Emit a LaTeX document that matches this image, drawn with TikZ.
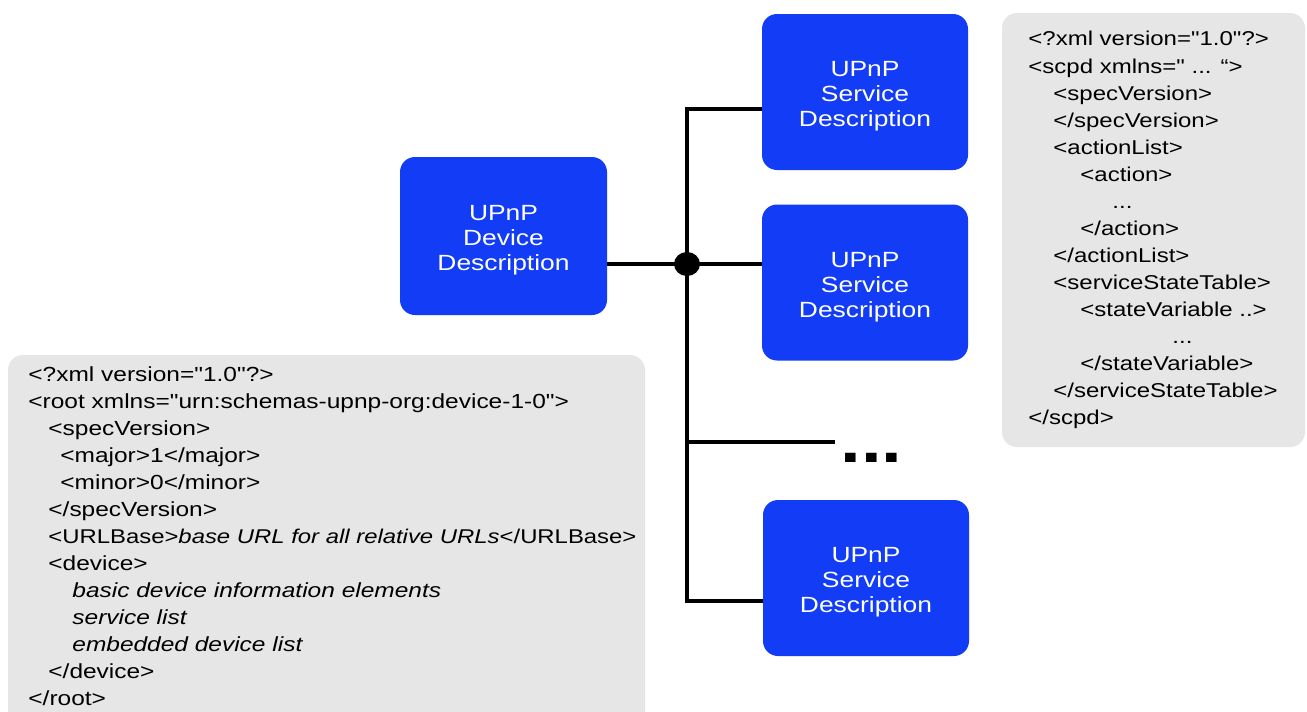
\documentclass[tikz,border=0pt]{standalone}
\usepackage{fontspec}
\setmainfont{Liberation Sans}[FakeStretch=1.2, Ligatures=TeXOff]
\usetikzlibrary{shapes.geometric}
\definecolor{upnpblue}{RGB}{18,60,245}
\definecolor{panelgray}{RGB}{230,230,230}
\newcommand\firstline{\rule{0pt}{12pt}}
\tikzset{
  bluebox/.style={draw=none, fill=upnpblue, rounded corners=7.5pt,
    minimum width=103pt, minimum height=78pt, text=white, align=center,
    font=\fontsize{11}{12.5}\selectfont, inner sep=0pt},
  panel/.style={draw=none, fill=panelgray, rounded corners=7.5pt, inner sep=0pt},
  xmlL/.style={anchor=base west, inner sep=0pt, font=\fontsize{10.2}{12}\selectfont},
  xmlR/.style={anchor=base west, inner sep=0pt, font=\fontsize{10}{12}\selectfont},
  conn/.style={line width=1.75pt, black},
}
\begin{document}
\begin{tikzpicture}[x=0.5pt,y=-0.5pt]
\useasboundingbox (0,0) rectangle (1307,712);
\fill[white] (0,0) rectangle (1307,712);

% panels
\begin{scope}
\clip (0,0) rectangle (1307,712);
\node[panel, minimum width=318.5pt, minimum height=187.5pt] (lpanel) at (326.5,542.5) {};
\end{scope}
\node[panel, minimum width=151.5pt, minimum height=217pt] (rpanel) at (1153.5,230) {};

% blue boxes
\node[bluebox, minimum width=103.5pt, minimum height=79pt] (dev) at (503.5,236) {\firstline UPnP\\Device\\Description};
\node[bluebox] (s1) at (865,92) {\firstline UPnP\\Service\\Description};
\node[bluebox] (s2) at (865,282.5) {\firstline UPnP\\Service\\Description};
\node[bluebox] (s3) at (866,578) {\firstline UPnP\\Service\\Description};

% junction and connectors
\node[ellipse, fill=black, minimum width=13pt, minimum height=12pt, inner sep=0pt] (junc) at (687,264) {};
\coordinate (top) at (687,109);
\coordinate (bot) at (687,601);
\coordinate (br) at (687,442);
\coordinate (brend) at (835,442);
\draw[conn] (dev.east |- junc) -- (junc.center) -- (junc -| s2.west);
\draw[conn] (top -| s1.west) -- (top) -- (bot) -- (bot -| s3.west);
\draw[conn] (br) -- (brend);
\node[anchor=base west, inner sep=0pt, font=\fontsize{31}{31}\selectfont\bfseries] (more) at (840,462) {...};

% left XML
\node[xmlL] (l1) at (28,381) {<?xml version="1.0"?>};
\node[xmlL] (l2) at (28,408) {<root xmlns="urn:schemas-upnp-org:device-1-0">};
\node[xmlL] (l3) at (48,435) {<specVersion>};
\node[xmlL] (l4) at (60,462) {<major>1</major>};
\node[xmlL] (l5) at (60,489) {<minor>0</minor>};
\node[xmlL] (l6) at (48,516) {</specVersion>};
\node[xmlL, font=\fontsize{9.95}{12}\selectfont] (l7) at (48,543) {<URLBase>\textit{base URL for all relative URLs}</URLBase>};
\node[xmlL] (l8) at (48,570) {<device>};
\node[xmlL] (l9) at (72,597) {\textit{basic device information elements}};
\node[xmlL] (l10) at (72,624) {\textit{service list}};
\node[xmlL] (l11) at (72,651) {\textit{embedded device list}};
\node[xmlL] (l12) at (48,678) {</device>};
\node[xmlL] (l13) at (28,705) {</root>};

% right XML
\node[xmlR] (r1) at (1028,46) {<?xml version="1.0"?>};
\node[xmlR] (r2) at (1028,73) {<scpd xmlns=" ... “>};
\node[xmlR] (r3) at (1053,100) {<specVersion>};
\node[xmlR] (r4) at (1053,127) {</specVersion>};
\node[xmlR] (r5) at (1053,154) {<actionList>};
\node[xmlR] (r6) at (1080,181) {<action>};
\node[xmlR] (r7) at (1112,208) {...};
\node[xmlR] (r8) at (1080,235) {</action>};
\node[xmlR] (r9) at (1053,262) {</actionList>};
\node[xmlR] (r10) at (1053,289) {<serviceStateTable>};
\node[xmlR] (r11) at (1080,316) {<stateVariable ..>};
\node[xmlR] (r12) at (1172,343) {...};
\node[xmlR] (r13) at (1080,370) {</stateVariable>};
\node[xmlR] (r14) at (1053,397) {</serviceStateTable>};
\node[xmlR] (r15) at (1028,424) {</scpd>};
\end{tikzpicture}
\end{document}
